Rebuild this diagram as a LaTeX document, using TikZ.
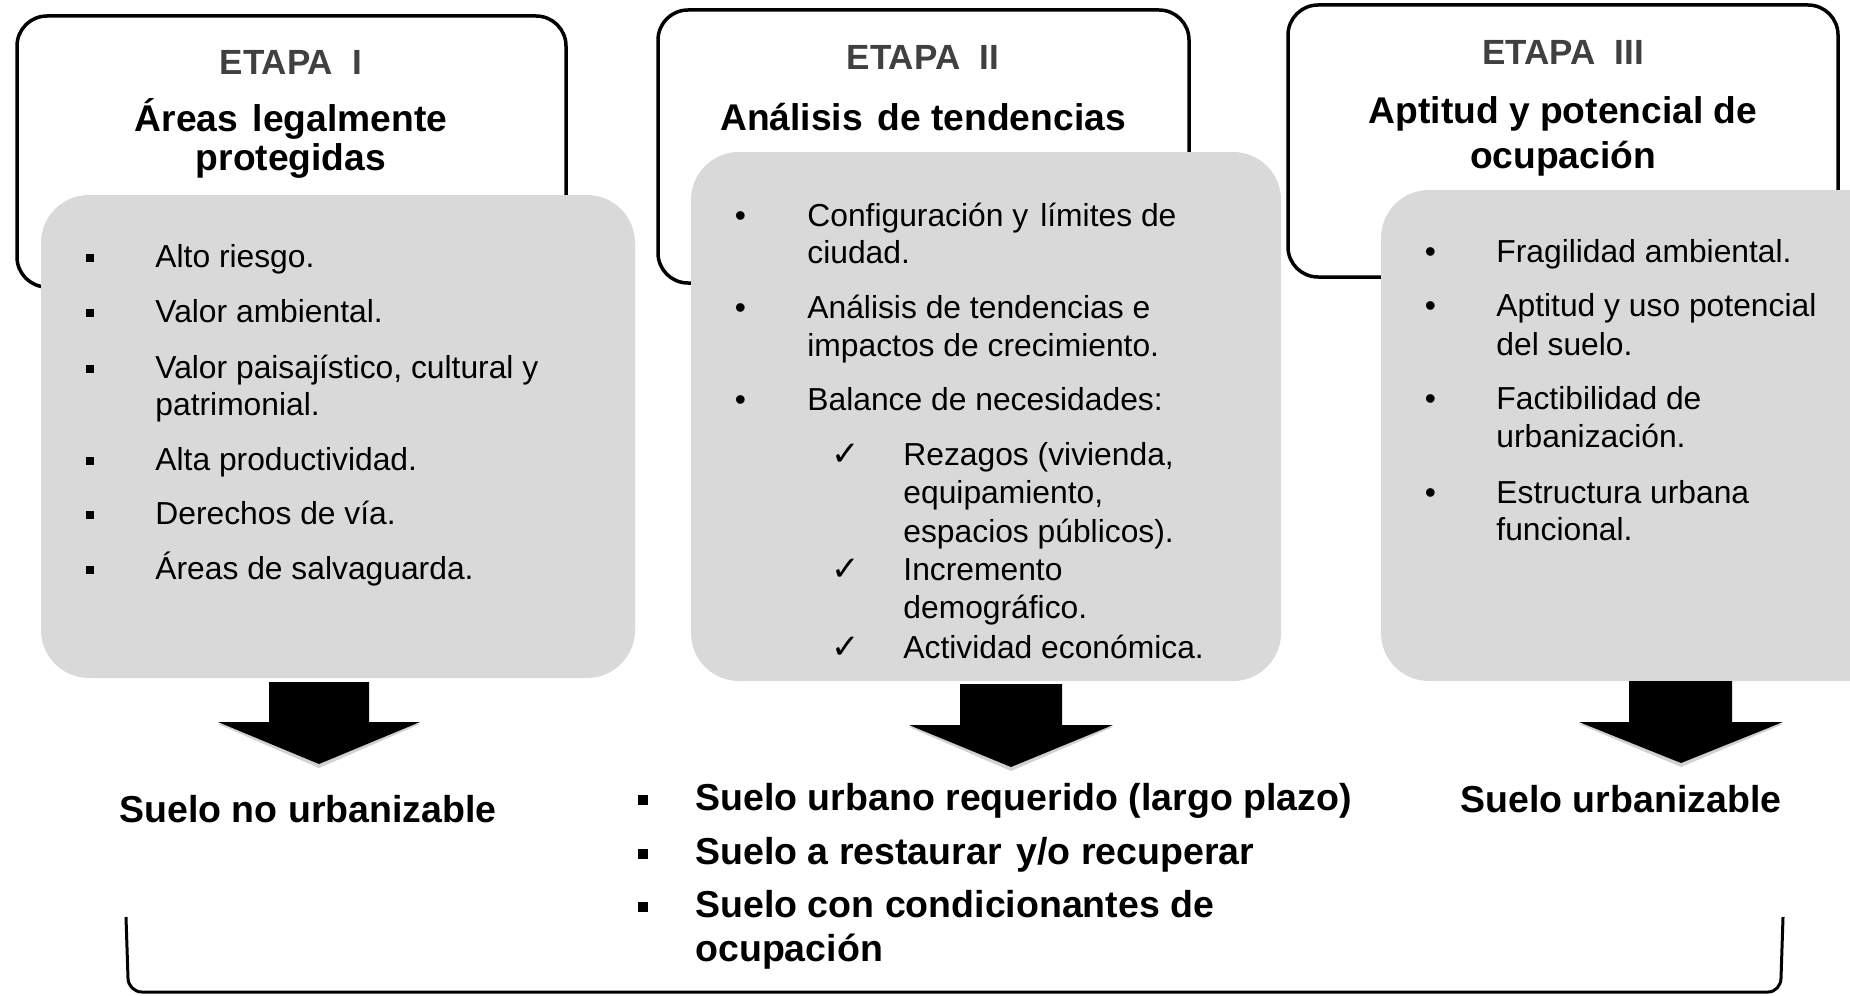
\documentclass[tikz,border=0pt]{standalone}
\usepackage{fontspec}
\setmainfont{Liberation Sans}
\newfontfamily\dejavufont{DejaVu Sans}
\definecolor{greybox}{HTML}{D9D9D9}
\definecolor{etapagrey}{HTML}{404040}
\newcommand{\mysqbullet}[1]{\makebox[#1][l]{\raisebox{2.5pt}{\rule{4pt}{4pt}}}}
\newcommand{\mybigsqbullet}[1]{\makebox[#1][l]{\raisebox{2.5pt}{\rule{5pt}{5pt}}}}
\newcommand{\myrbullet}[1]{\makebox[#1][l]{•}}
\newcommand{\mycheck}[1]{\makebox[#1][l]{{\dejavufont\fontsize{17}{18}\selectfont ✓}}}
\begin{document}
\begin{tikzpicture}[x=0.5pt,y=-0.5pt,
  outlinebox/.style={draw=black, line width=1.75pt, rounded corners=15pt},
  greypanel/.style={fill=greybox, rounded corners=24pt},
  etapa/.style={font=\fontsize{17.5}{20}\selectfont\bfseries, text=etapagrey, inner sep=0pt, anchor=base},
  ttl/.style={font=\fontsize{18.6}{20}\selectfont\bfseries, inner sep=0pt, anchor=base},
  body/.style={font=\fontsize{15.9}{18}\selectfont, inner sep=0pt, anchor=base west},
  res/.style={font=\fontsize{18.75}{21}\selectfont\bfseries, inner sep=0pt, anchor=base west},
  bigarrow/.style={fill=black},
  arrowshadow/.style={fill=black, opacity=0.18},
]
\useasboundingbox (0,0) rectangle (1850,995);
\fill[white] (0,0) rectangle (1850,995);
\clip (0,0) rectangle (1850,995);

% Stage frames and grey panels
\draw[outlinebox] (17,16) rectangle (566,287);
\fill[greypanel] (41,195) rectangle (635,678);
\draw[outlinebox] (658,10) rectangle (1189,283);
\fill[greypanel] (691,152) rectangle (1281,681);
\draw[outlinebox] (1288,5) rectangle (1838,277);
\fill[greypanel] (1381,190) rectangle (1920,681);

% Stage I
\node[etapa] (e1) at (291,75) {ETAPA\ \ I};
\node[ttl] (t1a) at (291,132) {Áreas\hspace{0.12em} legalmente};
\node[ttl] (t1b) at (291,170) {protegidas};
\node[body] (i1a) at (86,267) {\mysqbullet{34.5pt}Alto riesgo.};
\node[body] (i1b) at (86,322) {\mysqbullet{34.5pt}Valor ambiental.};
\node[body] (i1c) at (86,378) {\mysqbullet{34.5pt}Valor paisajístico, cultural y};
\node[body] (i1c2) at (155,415) {patrimonial.};
\node[body] (i1d) at (86,470) {\mysqbullet{34.5pt}Alta productividad.};
\node[body] (i1e) at (86,524) {\mysqbullet{34.5pt}Derechos de vía.};
\node[body] (i1f) at (86,579) {\mysqbullet{34.5pt}Áreas de salvaguarda.};

% Stage II
\node[etapa] (e2) at (923,70) {ETAPA\ \ II};
\node[ttl] (t2a) at (923,130) {Análisis\hspace{0.12em} de tendencias};
\node[body] (i2a) at (734.5,226) {\myrbullet{36.25pt}Configuración y\hspace{0.1em} límites de};
\node[body] (i2a2) at (807,263) {ciudad.};
\node[body] (i2b) at (734.5,318) {\myrbullet{36.25pt}Análisis de tendencias e};
\node[body] (i2b2) at (807,356) {impactos de crecimiento.};
\node[body] (i2c) at (734.5,410) {\myrbullet{36.25pt}Balance de necesidades:};
\node[body] (c2a) at (831,465) {\mycheck{36pt}Rezagos (vivienda,};
\node[body] (c2a2) at (903,503) {equipamiento,};
\node[body] (c2a3) at (903,542) {espacios públicos).};
\node[body] (c2b) at (831,580) {\mycheck{36pt}Incremento};
\node[body] (c2b2) at (903,618) {demográfico.};
\node[body] (c2c) at (831,658) {\mycheck{36pt}Actividad económica.};

% Stage III
\node[etapa] (e3) at (1563,65) {ETAPA\ \ III};
\node[ttl] (t3a) at (1563,124) {Aptitud y potencial de};
\node[ttl] (t3b) at (1563,168) {ocupación};
\node[body] (i3a) at (1424.5,262) {\myrbullet{35.75pt}Fragilidad ambiental.};
\node[body] (i3b) at (1424.5,316) {\myrbullet{35.75pt}Aptitud y uso potencial};
\node[body] (i3b2) at (1496,355) {del suelo.};
\node[body] (i3c) at (1424.5,409) {\myrbullet{35.75pt}Factibilidad de};
\node[body] (i3c2) at (1496,447) {urbanización.};
\node[body] (i3d) at (1424.5,503) {\myrbullet{35.75pt}Estructura urbana};
\node[body] (i3d2) at (1496,540) {funcional.};

% Block arrows
\fill[arrowshadow] (218,724) -- (420,724) -- (319,768) -- cycle;
\fill[bigarrow] (269,682) -- (369,682) -- (369,722) -- (420,722) -- (319,764) -- (218,722) -- (269,722) -- cycle;
\fill[arrowshadow] (909,727) -- (1113,727) -- (1011,771) -- cycle;
\fill[bigarrow] (960,684) -- (1062,684) -- (1062,725) -- (1113,725) -- (1011,767) -- (909,725) -- (960,725) -- cycle;
\fill[arrowshadow] (1579,724) -- (1783,724) -- (1681,767) -- cycle;
\fill[bigarrow] (1629,681) -- (1732,681) -- (1732,722) -- (1783,722) -- (1681,763) -- (1579,722) -- (1629,722) -- cycle;

% Results
\node[res] (r1) at (119,822) {Suelo no urbanizable};
\node[res] (r2a) at (638,810) {\mybigsqbullet{28.5pt}Suelo urbano requerido (largo plazo)};
\node[res] (r2b) at (638,864) {\mybigsqbullet{28.5pt}Suelo a restaurar\hspace{0.12em} y/o recuperar};
\node[res] (r2c) at (638,917) {\mybigsqbullet{28.5pt}Suelo con condicionantes de};
\node[res] (r2c2) at (695,961) {ocupación};
\node[res] (r3) at (1460,812) {Suelo urbanizable};

% Bottom bracket
\draw[line width=1.5pt] (126,917) -- (128,978) to[out=-90,in=180] (142,992) -- (1768,992) to[out=0,in=-90] (1781,978) -- (1783,917);
\end{tikzpicture}
\end{document}
